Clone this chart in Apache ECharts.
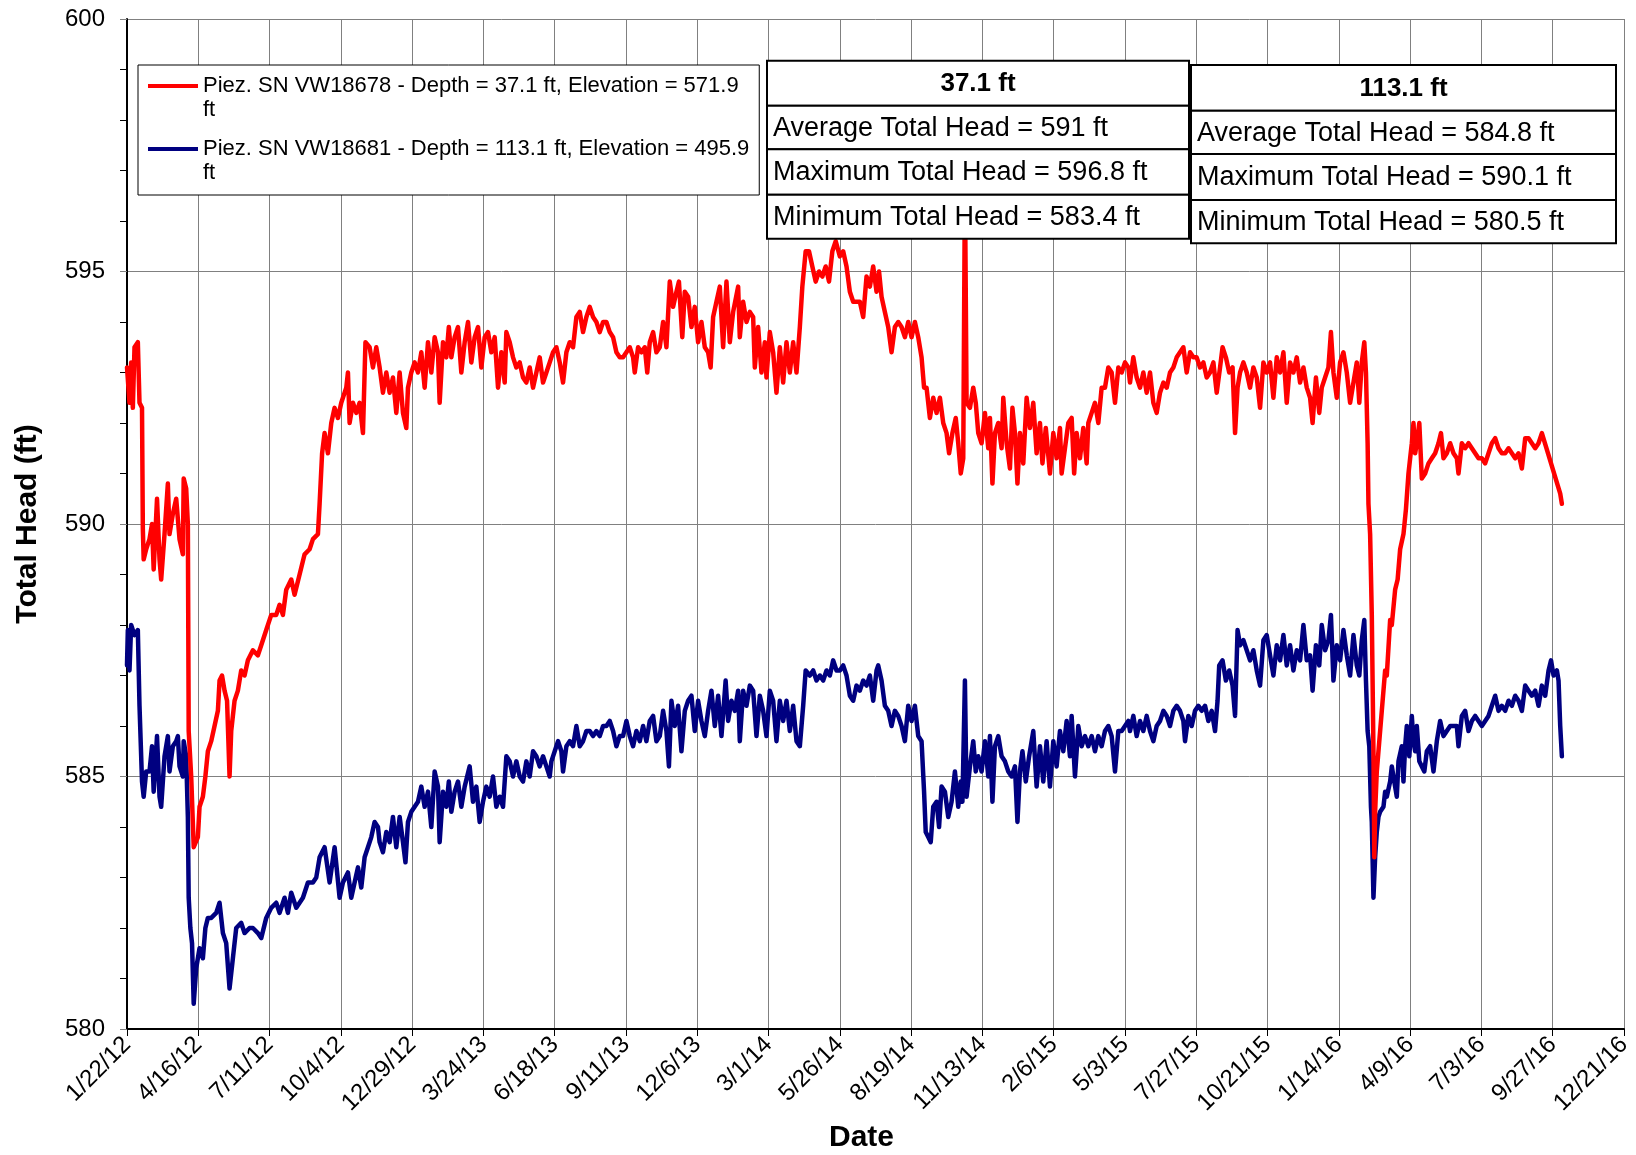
<!DOCTYPE html>
<html>
<head>
<meta charset="utf-8">
<script src="https://cdn.jsdelivr.net/npm/echarts@6/dist/echarts.min.js"></script>
<style>
  html, body { margin: 0; padding: 0; background: #fff; }
  #chart { width: 1636px; height: 1155px; }
</style>
</head>
<body>
<div id="chart"></div>
<script>
// x = days since 1/22/12, tick every 85.5 days (Excel date axis)
const TICK_DAYS = 85.5
const xTickLabels = ['1/22/12', '4/16/12', '7/11/12', '10/4/12', '12/29/12', '3/24/13', '6/18/13', '9/11/13',
  '12/6/13', '3/1/14', '5/26/14', '8/19/14', '11/13/14', '2/6/15', '5/3/15', '7/27/15', '10/21/15',
  '1/14/16', '4/9/16', '7/3/16', '9/27/16', '12/21/16']

const shallowName = 'Piez. SN VW18678 - Depth = 37.1 ft, Elevation = 571.9 ft'
const deepName = 'Piez. SN VW18681 - Depth = 113.1 ft, Elevation = 495.9 ft'

// [day, total head ft]
const shallowHead = [
  [0, 593.1], [3, 592.4], [5, 593.2], [7, 592.3], [9, 593.5], [13, 593.6], [15, 592.4], [18, 592.3], [19, 589.9], [20, 589.3],
  [23, 589.5], [27, 589.7], [30, 590.0], [32, 589.1], [36, 590.5], [39, 589.3], [41, 588.9], [45, 589.8], [49, 590.8], [51, 589.8],
  [55, 590.2], [59, 590.5], [61, 590.5], [63, 589.7], [67, 589.4], [68, 590.9], [71, 590.7], [73, 590.0], [74, 585.9], [77, 585.0],
  [80, 583.6], [85, 583.8], [87, 584.4], [91, 584.6], [94, 585.0], [97, 585.5], [101, 585.7], [105, 586.0], [109, 586.3], [111, 586.9],
  [114, 587.0], [117, 586.7], [120, 586.5], [123, 585.0], [125, 585.9], [129, 586.5], [133, 586.7], [137, 587.1], [141, 587.0], [145, 587.3],
  [151, 587.5], [157, 587.4], [161, 587.6], [167, 587.9], [173, 588.2], [179, 588.2], [183, 588.4], [187, 588.2], [191, 588.7], [197, 588.9],
  [201, 588.6], [207, 589.0], [213, 589.4], [219, 589.5], [223, 589.7], [229, 589.8], [231, 590.4], [234, 591.4], [237, 591.8], [241, 591.4],
  [245, 592.0], [249, 592.3], [253, 592.1], [257, 592.4], [263, 592.7], [265, 593.0], [267, 592.0], [271, 592.4], [275, 592.2], [279, 592.4],
  [283, 591.8], [286, 593.6], [291, 593.5], [295, 593.1], [299, 593.5], [303, 593.1], [307, 592.6], [311, 593.0], [315, 592.6], [319, 592.9],
  [323, 592.2], [327, 593.0], [331, 592.2], [335, 591.9], [337, 592.7], [341, 593.0], [345, 593.2], [349, 593.0], [353, 593.4], [357, 592.7],
  [361, 593.6], [365, 593.0], [369, 593.7], [373, 593.4], [375, 592.4], [379, 593.6], [383, 593.3], [386, 593.9], [389, 593.3], [393, 593.7],
  [397, 593.9], [401, 593.0], [405, 593.6], [409, 594.0], [413, 593.2], [417, 593.7], [421, 593.9], [425, 593.1], [429, 593.7], [433, 593.8],
  [437, 593.4], [441, 593.7], [445, 592.7], [449, 593.4], [453, 592.8], [455, 593.8], [459, 593.6], [463, 593.3], [467, 593.1], [471, 593.2],
  [475, 592.9], [479, 592.8], [483, 593.1], [487, 592.7], [491, 593.0], [495, 593.3], [499, 592.8], [503, 593.0], [507, 593.2], [511, 593.4],
  [515, 593.5], [519, 593.2], [523, 592.8], [527, 593.4], [531, 593.6], [535, 593.5], [539, 594.1], [543, 594.2], [547, 593.8], [551, 594.1],
  [555, 594.3], [559, 594.1], [563, 594.0], [567, 593.8], [571, 594.0], [575, 594.0], [579, 593.8], [583, 593.7], [587, 593.4], [591, 593.3],
  [595, 593.3], [599, 593.4], [603, 593.5], [607, 593.3], [609, 593.0], [613, 593.5], [617, 593.4], [621, 593.5], [624, 593.0], [627, 593.6],
  [631, 593.8], [635, 593.4], [639, 593.5], [643, 594.0], [647, 593.5], [651, 594.8], [655, 594.3], [659, 594.6], [662, 594.8], [666, 593.7],
  [669, 594.6], [673, 594.5], [677, 593.9], [681, 594.3], [685, 593.6], [689, 594.0], [693, 593.5], [697, 593.4], [700, 593.1], [703, 594.1],
  [707, 594.4], [711, 594.7], [715, 593.5], [719, 594.8], [723, 593.6], [727, 594.2], [733, 594.7], [735, 593.7], [739, 594.4], [743, 594.0],
  [747, 594.2], [751, 594.1], [753, 593.1], [757, 593.9], [761, 593.0], [765, 593.6], [767, 592.9], [771, 593.8], [775, 593.4], [779, 592.6],
  [783, 593.5], [787, 592.8], [791, 593.6], [795, 593.0], [799, 593.6], [803, 593.0], [807, 593.9], [810, 594.7], [814, 595.4], [818, 595.4],
  [822, 595.1], [826, 594.8], [830, 595.0], [834, 594.9], [838, 595.1], [842, 594.8], [846, 595.4], [850, 595.6], [855, 595.3], [859, 595.4],
  [863, 595.1], [867, 594.6], [871, 594.4], [875, 594.4], [879, 594.4], [883, 594.1], [887, 594.9], [891, 594.7], [895, 595.1], [899, 594.6],
  [902, 595.0], [905, 594.5], [909, 594.2], [913, 593.9], [917, 593.4], [921, 593.9], [925, 594.0], [929, 593.9], [933, 593.7], [937, 594.0],
  [941, 593.7], [945, 594.0], [949, 593.7], [953, 593.3], [956, 592.7], [959, 592.7], [963, 592.1], [967, 592.5], [971, 592.2], [975, 592.5],
  [979, 592.0], [983, 591.8], [986, 591.4], [990, 591.8], [994, 592.1], [997, 591.6], [1000, 591.0], [1003, 591.3], [1005, 596.8], [1007, 592.4],
  [1011, 592.3], [1015, 592.7], [1018, 592.4], [1021, 591.8], [1025, 591.6], [1029, 592.2], [1033, 591.5], [1035, 592.1], [1038, 590.8], [1041, 591.8],
  [1045, 592.0], [1049, 591.5], [1051, 592.5], [1055, 591.6], [1059, 591.1], [1062, 592.3], [1065, 591.8], [1068, 590.8], [1071, 591.8], [1075, 591.2],
  [1079, 592.5], [1083, 591.9], [1087, 592.4], [1091, 591.4], [1095, 592.0], [1098, 591.2], [1102, 591.9], [1107, 591.0], [1111, 591.8], [1115, 591.3],
  [1119, 591.9], [1121, 591.0], [1125, 591.5], [1129, 592.0], [1133, 592.1], [1136, 591.0], [1139, 591.8], [1143, 591.3], [1147, 591.9], [1151, 591.2],
  [1153, 592.0], [1157, 592.2], [1161, 592.4], [1165, 592.0], [1169, 592.7], [1173, 592.7], [1177, 593.1], [1181, 593.0], [1185, 592.4], [1189, 593.1],
  [1193, 593.0], [1197, 593.2], [1201, 593.1], [1203, 592.8], [1207, 593.3], [1211, 592.9], [1215, 592.7], [1219, 593.0], [1223, 592.6], [1227, 593.0],
  [1231, 592.4], [1235, 592.2], [1239, 592.6], [1243, 592.8], [1247, 592.7], [1251, 593.0], [1255, 593.1], [1259, 593.3], [1263, 593.4], [1267, 593.5],
  [1271, 593.0], [1275, 593.4], [1279, 593.3], [1283, 593.3], [1287, 593.1], [1291, 593.2], [1295, 592.9], [1299, 593.0], [1303, 593.2], [1307, 592.6],
  [1311, 593.1], [1314, 593.5], [1318, 593.3], [1322, 593.0], [1326, 593.1], [1329, 591.8], [1332, 592.7], [1335, 593.0], [1339, 593.2], [1343, 593.0],
  [1347, 592.7], [1351, 593.1], [1355, 592.9], [1359, 592.3], [1363, 593.2], [1367, 593.0], [1371, 593.2], [1375, 592.5], [1379, 593.3], [1383, 593.0],
  [1387, 593.4], [1391, 592.4], [1395, 593.2], [1399, 593.0], [1403, 593.3], [1407, 592.8], [1411, 593.1], [1415, 592.7], [1419, 592.5], [1422, 592.0],
  [1426, 592.9], [1430, 592.2], [1433, 592.7], [1437, 592.9], [1441, 593.1], [1444, 593.8], [1447, 593.0], [1451, 592.5], [1455, 593.2], [1459, 593.4],
  [1463, 593.0], [1467, 592.4], [1471, 592.8], [1475, 593.2], [1478, 592.4], [1481, 593.2], [1484, 593.6], [1486, 593.0], [1488, 591.6], [1489, 590.4],
  [1491, 589.8], [1493, 588.2], [1495, 585.5], [1496, 583.4], [1497, 584.3], [1499, 585.1], [1502, 585.7], [1505, 586.3], [1509, 587.1], [1511, 587.0],
  [1515, 588.1], [1517, 588.0], [1521, 588.7], [1524, 588.9], [1527, 589.5], [1531, 589.8], [1534, 590.3], [1537, 591.0], [1539, 591.3], [1541, 591.6],
  [1543, 592.0], [1545, 591.4], [1547, 591.6], [1550, 592.0], [1553, 590.9], [1557, 591.0], [1561, 591.2], [1565, 591.3], [1569, 591.4], [1573, 591.6],
  [1576, 591.8], [1579, 591.3], [1583, 591.4], [1587, 591.6], [1591, 591.4], [1595, 591.3], [1597, 591.0], [1601, 591.6], [1605, 591.5], [1609, 591.6],
  [1613, 591.5], [1617, 591.4], [1621, 591.3], [1625, 591.3], [1629, 591.2], [1633, 591.4], [1637, 591.6], [1641, 591.7], [1645, 591.5], [1649, 591.4],
  [1653, 591.4], [1657, 591.5], [1661, 591.4], [1665, 591.3], [1669, 591.4], [1673, 591.1], [1677, 591.7], [1681, 591.7], [1685, 591.6], [1689, 591.5],
  [1693, 591.6], [1697, 591.8], [1719, 590.6], [1721, 590.4]
]

const deepHead = [
  [0, 587.2], [1, 587.9], [3, 587.1], [5, 588.0], [9, 587.8], [13, 587.9], [15, 586.4], [17, 586.4], [18, 584.9], [20, 584.6],
  [23, 585.1], [27, 585.1], [30, 585.6], [32, 584.7], [36, 585.8], [39, 584.6], [41, 584.4], [45, 585.4], [49, 585.8], [51, 585.1],
  [55, 585.6], [59, 585.7], [61, 585.8], [63, 585.2], [67, 585.0], [68, 585.7], [71, 585.4], [73, 584.2], [74, 582.6], [76, 582.0],
  [78, 581.7], [80, 580.5], [83, 581.2], [87, 581.6], [91, 581.4], [94, 582.0], [97, 582.2], [101, 582.2], [107, 582.3], [111, 582.5],
  [115, 581.9], [119, 581.7], [123, 580.8], [127, 581.4], [131, 582.0], [137, 582.1], [141, 581.9], [147, 582.0], [151, 582.0], [157, 581.9],
  [161, 581.8], [167, 582.2], [173, 582.4], [179, 582.5], [183, 582.3], [189, 582.6], [193, 582.3], [197, 582.7], [203, 582.4], [211, 582.6],
  [217, 582.9], [223, 582.9], [227, 583.0], [231, 583.4], [237, 583.6], [243, 582.9], [249, 583.6], [255, 582.6], [259, 582.9], [265, 583.1],
  [269, 582.6], [273, 582.9], [277, 583.2], [281, 582.8], [285, 583.4], [289, 583.6], [293, 583.8], [297, 584.1], [301, 584.0], [303, 583.7],
  [307, 583.5], [311, 583.9], [315, 583.7], [319, 584.2], [323, 583.6], [327, 584.2], [331, 583.7], [334, 583.3], [337, 584.1], [341, 584.3],
  [345, 584.4], [349, 584.5], [353, 584.8], [357, 584.4], [361, 584.7], [365, 584.0], [369, 585.1], [373, 584.8], [375, 583.7], [379, 584.7],
  [383, 584.4], [386, 584.9], [389, 584.3], [393, 584.7], [397, 584.9], [401, 584.4], [405, 584.8], [411, 585.2], [415, 584.5], [419, 584.8],
  [423, 584.1], [427, 584.5], [431, 584.8], [435, 584.6], [439, 585.0], [443, 584.4], [447, 584.6], [451, 584.4], [455, 585.4], [459, 585.3],
  [463, 585.0], [467, 585.3], [471, 585.0], [475, 584.9], [479, 585.3], [483, 585.0], [487, 585.5], [491, 585.4], [495, 585.2], [499, 585.4],
  [503, 585.2], [507, 585.0], [509, 585.3], [513, 585.5], [517, 585.7], [521, 585.5], [523, 585.1], [527, 585.6], [531, 585.7], [535, 585.6],
  [539, 586.0], [543, 585.6], [547, 585.7], [551, 585.9], [555, 585.9], [559, 585.8], [563, 585.9], [567, 585.8], [571, 586.0], [575, 586.0],
  [579, 586.1], [583, 585.9], [587, 585.6], [591, 585.8], [595, 585.8], [599, 586.1], [603, 585.8], [607, 585.6], [611, 585.9], [615, 585.7],
  [619, 586.0], [623, 585.7], [627, 586.1], [631, 586.2], [635, 585.7], [639, 585.8], [643, 586.3], [647, 585.9], [650, 585.2], [653, 586.5],
  [657, 586.0], [661, 586.4], [665, 585.5], [669, 586.3], [673, 586.5], [677, 586.6], [681, 585.9], [685, 586.5], [689, 586.1], [693, 585.8],
  [697, 586.3], [701, 586.7], [705, 586.0], [709, 586.6], [713, 585.8], [718, 586.9], [721, 586.1], [725, 586.5], [729, 586.3], [733, 586.7],
  [735, 585.7], [739, 586.7], [743, 586.4], [747, 586.8], [751, 586.7], [755, 585.8], [759, 586.6], [763, 586.3], [767, 585.8], [771, 586.7],
  [775, 586.5], [779, 585.7], [783, 586.5], [787, 586.1], [791, 586.5], [795, 585.9], [799, 586.4], [803, 585.7], [807, 585.6], [811, 586.4],
  [814, 587.1], [819, 587.0], [823, 587.1], [827, 586.9], [831, 587.0], [835, 586.9], [839, 587.1], [843, 587.0], [847, 587.3], [851, 587.1],
  [855, 587.1], [859, 587.2], [863, 587.0], [867, 586.6], [871, 586.5], [875, 586.8], [879, 586.7], [883, 586.9], [887, 586.8], [891, 587.0],
  [895, 586.5], [899, 587.1], [901, 587.2], [905, 586.9], [909, 586.4], [913, 586.3], [917, 586.0], [921, 586.3], [925, 586.2], [929, 586.0],
  [933, 585.7], [937, 586.4], [941, 586.1], [945, 586.4], [949, 585.8], [953, 585.7], [956, 584.7], [958, 583.9], [961, 583.8], [964, 583.7],
  [967, 584.4], [971, 584.5], [974, 584.0], [977, 584.8], [981, 584.7], [985, 584.2], [989, 584.5], [993, 585.1], [997, 584.4], [1000, 584.9],
  [1002, 584.5], [1005, 586.9], [1007, 584.6], [1011, 585.2], [1015, 585.7], [1018, 585.1], [1021, 585.4], [1025, 585.1], [1029, 585.7], [1033, 585.0],
  [1035, 585.8], [1038, 584.5], [1041, 585.6], [1045, 585.8], [1049, 585.4], [1053, 585.3], [1057, 585.1], [1061, 585.0], [1065, 585.2], [1068, 584.1],
  [1071, 585.1], [1074, 585.5], [1078, 584.9], [1082, 585.4], [1087, 585.9], [1091, 584.8], [1095, 585.6], [1099, 584.9], [1103, 585.7], [1107, 584.8],
  [1111, 585.7], [1115, 585.2], [1119, 585.9], [1123, 585.5], [1127, 586.1], [1131, 585.4], [1133, 586.2], [1137, 585.0], [1141, 586.0], [1145, 585.6],
  [1149, 585.8], [1153, 585.6], [1157, 585.8], [1161, 585.5], [1165, 585.8], [1169, 585.6], [1173, 585.9], [1177, 586.0], [1181, 585.8], [1185, 585.1],
  [1189, 585.9], [1193, 585.9], [1197, 586.0], [1201, 586.1], [1203, 585.9], [1207, 586.2], [1211, 585.8], [1215, 586.1], [1219, 585.9], [1223, 586.2],
  [1227, 585.9], [1231, 585.7], [1235, 586.0], [1239, 586.1], [1243, 586.3], [1247, 586.2], [1251, 586.0], [1255, 586.3], [1259, 586.4], [1263, 586.3],
  [1267, 586.1], [1269, 585.7], [1273, 586.2], [1277, 586.0], [1281, 586.3], [1285, 586.4], [1289, 586.3], [1293, 586.4], [1297, 586.1], [1301, 586.3],
  [1305, 585.9], [1308, 586.5], [1310, 587.2], [1314, 587.3], [1318, 586.9], [1322, 587.1], [1326, 586.8], [1329, 586.2], [1332, 587.9], [1335, 587.6],
  [1339, 587.7], [1343, 587.5], [1347, 587.3], [1351, 587.5], [1355, 587.1], [1359, 586.8], [1363, 587.7], [1367, 587.8], [1371, 587.4], [1375, 587.0],
  [1379, 587.6], [1383, 587.3], [1387, 587.8], [1391, 587.2], [1395, 587.6], [1399, 587.1], [1403, 587.5], [1407, 587.3], [1411, 588.0], [1415, 587.3],
  [1419, 587.4], [1422, 586.7], [1426, 587.6], [1430, 587.2], [1433, 588.0], [1437, 587.5], [1441, 587.7], [1444, 588.2], [1447, 586.9], [1451, 587.6],
  [1455, 587.3], [1459, 587.9], [1463, 587.4], [1467, 587.0], [1471, 587.8], [1475, 587.2], [1478, 587.0], [1481, 587.7], [1484, 588.1], [1486, 586.9],
  [1488, 585.9], [1490, 585.6], [1492, 584.4], [1493, 584.1], [1495, 582.6], [1497, 583.4], [1499, 583.9], [1501, 584.2], [1503, 584.3], [1507, 584.4],
  [1509, 584.7], [1511, 584.6], [1515, 584.9], [1517, 585.2], [1521, 584.8], [1523, 584.6], [1525, 585.3], [1529, 585.6], [1531, 584.9], [1533, 585.6],
  [1535, 586.0], [1538, 585.4], [1541, 586.2], [1543, 585.7], [1545, 585.5], [1547, 586.0], [1550, 585.3], [1553, 585.2], [1556, 585.1], [1559, 585.5],
  [1563, 585.6], [1567, 585.1], [1571, 585.7], [1575, 586.1], [1579, 585.8], [1583, 585.9], [1587, 586.0], [1591, 586.0], [1595, 586.0], [1597, 585.6],
  [1601, 586.2], [1605, 586.3], [1609, 585.9], [1613, 586.1], [1617, 586.2], [1621, 586.1], [1625, 586.0], [1629, 586.1], [1633, 586.2], [1637, 586.4],
  [1641, 586.6], [1645, 586.3], [1649, 586.4], [1653, 586.3], [1657, 586.5], [1661, 586.4], [1665, 586.6], [1669, 586.5], [1673, 586.3], [1677, 586.8],
  [1681, 586.7], [1685, 586.6], [1689, 586.7], [1693, 586.4], [1697, 586.8], [1701, 586.6], [1705, 587.1], [1708, 587.3], [1711, 587.0], [1715, 587.1],
  [1717, 586.9], [1719, 586.0], [1721, 585.4]
]

// summary tables: header then rows
const shallowStats = ['37.1 ft', 'Average Total Head = 591 ft', 'Maximum Total Head = 596.8 ft', 'Minimum Total Head = 583.4 ft']
const deepStats = ['113.1 ft', 'Average Total Head = 584.8 ft', 'Maximum Total Head = 590.1 ft', 'Minimum Total Head = 580.5 ft']

const FONT = '"Liberation Sans", Arial, sans-serif'

function statTable (x, w, rowYs, texts) {
  const els = []
  for (let i = 0; i < texts.length; i++) {
    const y0 = rowYs[i]
    const h = rowYs[i + 1] - y0
    els.push({
      type: 'rect',
      z: 100,
      shape: { x: x, y: y0, width: w, height: h },
      style: { fill: '#fff', stroke: '#000', lineWidth: 2 }
    })
    els.push({
      type: 'text',
      z: 101,
      x: i === 0 ? x + w / 2 : x + 6,
      y: y0 + h / 2 + 1,
      style: {
        text: texts[i],
        fill: '#000',
        font: i === 0 ? 'bold 26px ' + FONT : '27px ' + FONT,
        align: i === 0 ? 'center' : 'left',
        verticalAlign: 'middle'
      }
    })
  }
  return els
}

const chart = echarts.init(document.getElementById('chart'))
const option = {
  animation: false,
  backgroundColor: '#fff',
  textStyle: { fontFamily: FONT },
  grid: { left: 127, right: 12, top: 19, bottom: 126, containLabel: false, outerBoundsMode: 'none' },
  legend: {
    orient: 'vertical',
    left: 138,
    top: 65,
    backgroundColor: '#fff',
    borderColor: '#000',
    borderWidth: 1,
    borderRadius: 0,
    padding: [9, 10, 10, 10],
    itemWidth: 50,
    itemHeight: 48,
    itemGap: 15,
    // line sits on the first text row, path spans the whole item height
    icon: 'path://M0,10L50,10L50,14L0,14Z M0,0L0.01,0 M0,48L0.01,48',
    itemStyle: { borderWidth: 0 },
    data: [shallowName, deepName],
    formatter: name => name.replace(/ ft$/, '\nft'),
    textStyle: { fontSize: 22, lineHeight: 24, color: '#000', fontFamily: FONT }
  },
  xAxis: {
    type: 'value',
    min: 0,
    max: TICK_DAYS * (xTickLabels.length - 1),
    interval: TICK_DAYS,
    name: 'Date',
    nameLocation: 'middle',
    nameGap: 94,
    nameTextStyle: { fontSize: 30, fontWeight: 'bold', color: '#000', padding: [0, 28, 0, 0] },
    axisLine: { show: true, onZero: false, lineStyle: { color: '#000', width: 2 } },
    axisTick: { show: true, length: 7, lineStyle: { color: '#000' } },
    axisLabel: {
      rotate: 45,
      margin: 12,
      fontSize: 24,
      color: '#000',
      formatter: v => xTickLabels[Math.round(v / TICK_DAYS)]
    },
    splitLine: { show: true, lineStyle: { color: '#808080', width: 1 } }
  },
  yAxis: {
    type: 'value',
    min: 580,
    max: 600,
    interval: 5,
    name: 'Total Head (ft)',
    nameLocation: 'middle',
    nameGap: 84,
    nameTextStyle: { fontSize: 30, fontWeight: 'bold', color: '#000' },
    axisLine: { show: true, lineStyle: { color: '#000', width: 2 } },
    axisTick: { show: true, length: 7, lineStyle: { color: '#808080' } },
    minorTick: { show: true, splitNumber: 5, length: 7, lineStyle: { color: '#000' } },
    axisLabel: { fontSize: 24, color: '#000', margin: 22 },
    splitLine: { show: true, lineStyle: { color: '#808080', width: 1 } }
  },
  series: [
    {
      name: deepName,
      type: 'line',
      data: deepHead,
      symbol: 'none',
      z: 2,
      lineStyle: { color: '#000080', width: 4.5, join: 'round', cap: 'round' },
      itemStyle: { color: '#000080' }
    },
    {
      name: shallowName,
      type: 'line',
      data: shallowHead,
      symbol: 'none',
      z: 3,
      lineStyle: { color: '#FF0000', width: 4.5, join: 'round', cap: 'round' },
      itemStyle: { color: '#FF0000' }
    }
  ],
  graphic: [
    ...statTable(767, 422, [60.7, 105.7, 149.3, 194.7, 238.7], shallowStats),
    ...statTable(1191, 425, [65, 110.7, 154, 200, 243.3], deepStats)
  ]
}
chart.setOption(option)
</script>
</body>
</html>
